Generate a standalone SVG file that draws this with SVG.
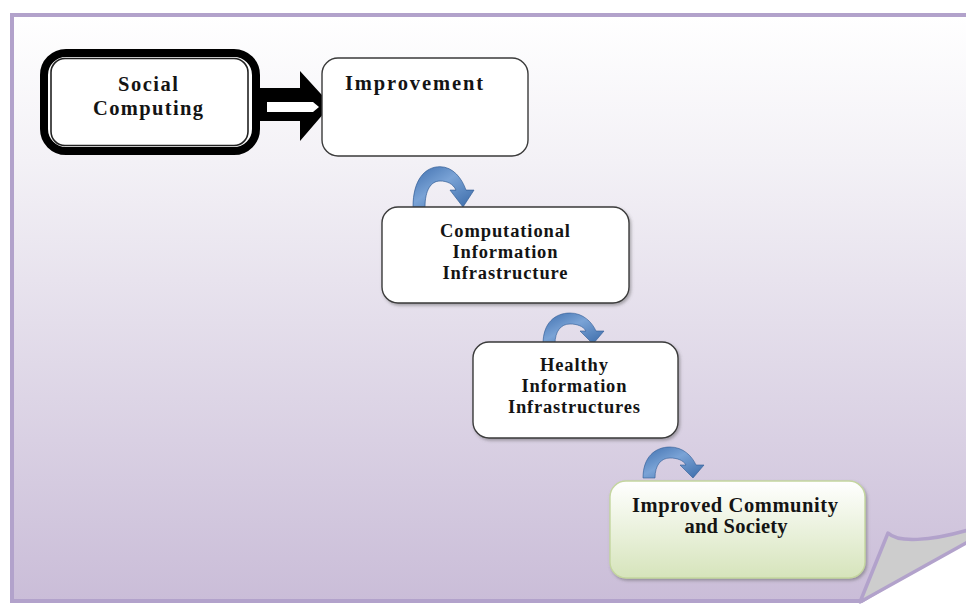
<svg xmlns="http://www.w3.org/2000/svg" width="966" height="604" viewBox="0 0 966 604">
  <defs>
    <linearGradient id="pageGrad" x1="0" y1="0" x2="0" y2="1">
      <stop offset="0" stop-color="#ffffff"/>
      <stop offset="0.25" stop-color="#f3f1f6"/>
      <stop offset="1" stop-color="#cabdd8"/>
    </linearGradient>
    <linearGradient id="greenGrad" x1="0" y1="0" x2="0" y2="1">
      <stop offset="0" stop-color="#ffffff"/>
      <stop offset="1" stop-color="#d6e4bb"/>
    </linearGradient>
    <linearGradient id="blueGrad" x1="0" y1="0" x2="1" y2="1">
      <stop offset="0" stop-color="#3f6fae"/>
      <stop offset="0.45" stop-color="#7aa3d6"/>
      <stop offset="1" stop-color="#3a6aa8"/>
    </linearGradient>
    <filter id="shadow" x="-10%" y="-10%" width="125%" height="130%">
      <feDropShadow dx="1.5" dy="2" stdDeviation="1.5" flood-color="#555555" flood-opacity="0.45"/>
    </filter>
    <path id="curl" d="M0,0 C0,-21 12,-31 27,-31 C40,-31 49,-22 53,-13 L61,-13 L50,0 L37,-13 L43,-13 C40,-18 34,-20 27,-20 C18,-20 12,-13 12,0 Z"/>
  </defs>
  <style>
    .box { fill: #ffffff; stroke: #3a3a3a; stroke-width: 1.4; }
    .lbl { font-family: "Liberation Serif", "Times New Roman", serif; font-weight: bold; fill: #141414; text-anchor: middle; }
    .bluearrow { fill: url(#blueGrad); stroke: #2f5a93; stroke-width: 0.6; }
  </style>

  <!-- page background -->
  <rect x="0" y="0" width="966" height="604" fill="#ffffff"/>
  <rect x="12" y="15" width="966" height="586" fill="url(#pageGrad)" stroke="#b2a2cb" stroke-width="4"/>
  <polygon points="857,606 972,538 972,610" fill="#ffffff"/>
  <path d="M888,533 C898,543 930,541 968,530 L968,542 L860,602 Z" fill="#cdcdcd" stroke="#b2a2cb" stroke-width="3.5" stroke-linejoin="round"/>

  <!-- connectors -->
  <g id="connectors">
    <g id="block-arrow">
      <polygon points="254,88 300,88 300,71 331,105 300,141 300,121 254,121" fill="#000000"/>
      <polygon points="267,102 313,102 319,107 313,112 267,112" fill="#ffffff"/>
    </g>
    <use href="#curl" class="bluearrow" transform="translate(413,207) scale(1,1.3)"/>
    <use href="#curl" class="bluearrow" transform="translate(543,344)"/>
    <use href="#curl" class="bluearrow" transform="translate(643,478)"/>
  </g>

  <!-- nodes -->
  <g id="node-social">
    <rect x="44" y="53" width="212" height="98" rx="22" ry="22" fill="#ffffff" stroke="#000000" stroke-width="8"/>
    <rect x="51" y="58.5" width="197" height="87" rx="14" ry="14" fill="#ffffff" stroke="#222222" stroke-width="1.6"/>
    <text class="lbl" x="148" y="91" font-size="20.5" textLength="60" lengthAdjust="spacing">Social</text>
    <text class="lbl" x="148" y="115" font-size="20.5" textLength="110" lengthAdjust="spacing">Computing</text>
  </g>

  <g id="node-improvement">
    <rect class="box" x="322" y="58" width="206" height="98" rx="16" ry="16"/>
    <text class="lbl" x="414" y="90" font-size="20.5" textLength="138" lengthAdjust="spacing">Improvement</text>
  </g>

  <g id="node-computational">
    <rect class="box" filter="url(#shadow)" x="382" y="207" width="247" height="96" rx="16" ry="16"/>
    <text class="lbl" x="505" y="237" font-size="18.5" textLength="130" lengthAdjust="spacing">Computational</text>
    <text class="lbl" x="505" y="258" font-size="18.5" textLength="105" lengthAdjust="spacing">Information</text>
    <text class="lbl" x="505" y="279" font-size="18.5" textLength="125" lengthAdjust="spacing">Infrastructure</text>
  </g>

  <g id="node-healthy">
    <rect class="box" filter="url(#shadow)" x="473" y="342" width="205" height="96" rx="16" ry="16"/>
    <text class="lbl" x="574" y="371" font-size="18.5" textLength="68" lengthAdjust="spacing">Healthy</text>
    <text class="lbl" x="574" y="392" font-size="18.5" textLength="105" lengthAdjust="spacing">Information</text>
    <text class="lbl" x="574" y="413" font-size="18.5" textLength="132" lengthAdjust="spacing">Infrastructures</text>
  </g>

  <g id="node-improved">
    <rect filter="url(#shadow)" x="610" y="481" width="255" height="97" rx="16" ry="16" fill="url(#greenGrad)" stroke="#c4d69f" stroke-width="1.4"/>
    <text class="lbl" x="735" y="512" font-size="20.5" textLength="206" lengthAdjust="spacing">Improved Community</text>
    <text class="lbl" x="736" y="533" font-size="20.5" textLength="103" lengthAdjust="spacing">and Society</text>
  </g>
</svg>
